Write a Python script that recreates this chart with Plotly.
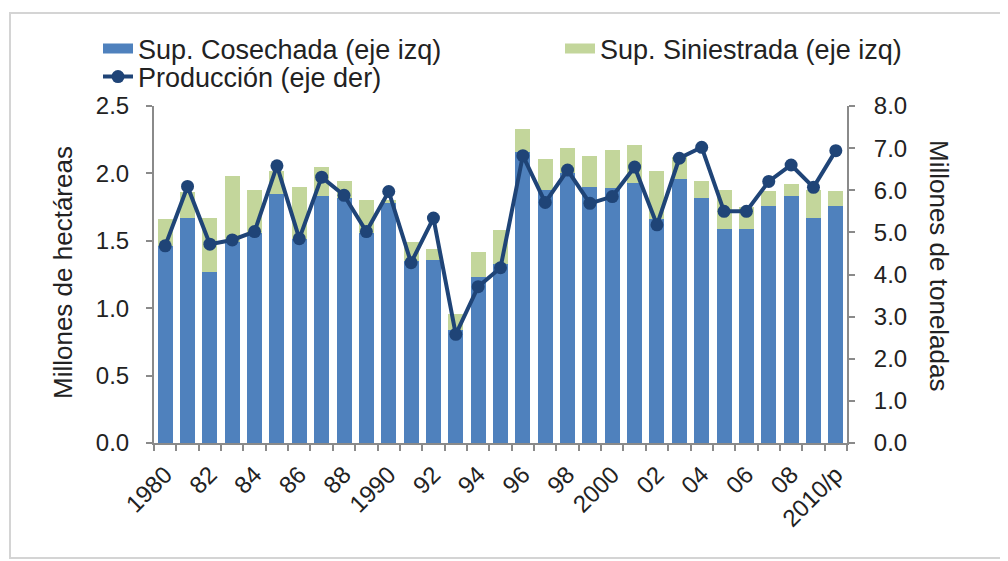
import plotly.graph_objects as go

years = list(range(1980, 2011))
cosechada = [1.46, 1.67, 1.27, 1.49, 1.56, 1.85, 1.51, 1.83, 1.82, 1.56,
             1.78, 1.35, 1.36, 0.84, 1.23, 1.33, 2.16, 1.88, 2.00, 1.90,
             1.89, 1.93, 1.66, 1.96, 1.82, 1.59, 1.59, 1.76, 1.83, 1.67, 1.76]
siniestrada = [0.20, 0.19, 0.40, 0.49, 0.32, 0.17, 0.39, 0.22, 0.12, 0.24,
               0.02, 0.14, 0.08, 0.12, 0.19, 0.25, 0.17, 0.23, 0.19, 0.23,
               0.28, 0.28, 0.36, 0.16, 0.12, 0.29, 0.16, 0.11, 0.09, 0.21, 0.11]
produccion = [4.68, 6.09, 4.72, 4.82, 5.02, 6.58, 4.85, 6.31, 5.88, 5.02,
              5.97, 4.28, 5.34, 2.58, 3.71, 4.16, 6.82, 5.71, 6.48, 5.69,
              5.85, 6.55, 5.18, 6.76, 7.02, 5.50, 5.50, 6.21, 6.60, 6.07, 6.94]
tick_years = [1980, 1982, 1984, 1986, 1988, 1990, 1992, 1994, 1996, 1998,
              2000, 2002, 2004, 2006, 2008, 2010]
tick_labels = ["1980", "82", "84", "86", "88", "1990", "92", "94", "96", "98",
               "2000", "02", "04", "06", "08", "2010/p"]

FONT = "Liberation Sans, Arial, sans-serif"
TXT = "#222222"
AX = "#8a8a8a"
BLUE = "#4F81BD"
GREEN = "#C3D69B"
NAVY = "#1F4477"

fig = go.Figure()
fig.add_trace(go.Bar(x=years, y=cosechada, name="Sup. Cosechada (eje izq)",
                     marker=dict(color=BLUE, line=dict(width=0)),
                     legendgroup="cos", showlegend=False))
fig.add_trace(go.Bar(x=years, y=siniestrada, name="Sup. Siniestrada (eje izq)",
                     marker=dict(color=GREEN, line=dict(width=0)),
                     legendgroup="sin", showlegend=False))
fig.add_trace(go.Scatter(x=years, y=produccion, name="Producción (eje der)", yaxis="y2",
                         mode="lines+markers", line=dict(color=NAVY, width=4),
                         marker=dict(color=NAVY, size=13), legend="legend3"))
# legend swatches (wide rectangles like the original) for the bar series
fig.add_trace(go.Scatter(x=[None], y=[None], mode="lines", name="Sup. Cosechada (eje izq)",
                         line=dict(color=BLUE, width=14), legendgroup="cos",
                         legend="legend", hoverinfo="skip"))
fig.add_trace(go.Scatter(x=[None], y=[None], mode="lines", name="Sup. Siniestrada (eje izq)",
                         line=dict(color=GREEN, width=14), legendgroup="sin",
                         legend="legend2", hoverinfo="skip"))

# page is offset by the default 8px body margin
OFF = 8
W, H = 1008 - OFF, 561 - OFF
PL, PR, PT, PB = 154, 847, 106, 443  # plot area in page pixels
pw, ph = PR - PL, PB - PT
def px(x):
    return (x - PL) / pw
def py(y):
    return (PB - y) / ph

leg_common = dict(orientation="v", xanchor="left", yanchor="middle",
                  font=dict(family=FONT, size=27, color=TXT),
                  bgcolor="rgba(0,0,0,0)", borderwidth=0, itemclick=False,
                  visible=True)

fig.update_layout(
    width=W, height=H,
    margin=dict(l=PL - OFF, r=1008 - PR, t=PT - OFF, b=561 - PB, autoexpand=False),
    paper_bgcolor="white", plot_bgcolor="white",
    showlegend=True,
    barmode="stack", bargap=0.33,
    font=dict(family=FONT, color=TXT),
    legend=dict(x=px(98), y=py(49), **leg_common),
    legend2=dict(x=px(560), y=py(49), **leg_common),
    legend3=dict(x=px(98), y=py(77), **leg_common),
    xaxis=dict(range=[1979.5, 2010.5], tickmode="array", tickvals=tick_years,
               ticktext=tick_labels, tickangle=-45, ticks="outside", ticklen=6,
               tickcolor="rgba(0,0,0,0)",
               tickfont=dict(family=FONT, size=24, color=TXT),
               showline=True, linecolor=AX, linewidth=2, showgrid=False, zeroline=False,
               minor=dict(tick0=1979.5, dtick=1, ticks="outside", ticklen=6,
                          tickcolor=AX, tickwidth=1.5, showgrid=False)),
    yaxis=dict(range=[0, 2.5], dtick=0.5, tickformat=".1f", ticks="outside",
               ticklen=6, tickcolor=AX, tickwidth=1.5, ticklabelstandoff=12,
               tickfont=dict(family=FONT, size=24, color=TXT),
               showline=True, linecolor=AX, linewidth=2, showgrid=False, zeroline=False),
    yaxis2=dict(range=[0, 8], dtick=1, tickformat=".1f", overlaying="y", side="right",
                ticks="outside", ticklen=6, tickcolor=AX, tickwidth=1.5,
                ticklabelstandoff=14,
                tickfont=dict(family=FONT, size=24, color=TXT),
                showline=True, linecolor=AX, linewidth=2, showgrid=False, zeroline=False),
    annotations=[
        dict(text="Millones de hectáreas", xref="paper", yref="paper",
             x=px(63), y=py(272), xanchor="center", yanchor="middle",
             textangle=-90, showarrow=False,
             font=dict(family=FONT, size=26, color=TXT)),
        dict(text="Millones de toneladas", xref="paper", yref="paper",
             x=px(939), y=py(266), xanchor="center", yanchor="middle",
             textangle=90, showarrow=False,
             font=dict(family=FONT, size=26, color=TXT)),
    ],
    shapes=[
        dict(type="rect", xref="paper", yref="paper",
             x0=px(10), x1=px(1030), y0=py(558), y1=py(13),
             line=dict(color="#d4d4d4", width=2), fillcolor="rgba(0,0,0,0)", layer="below"),
    ],
)

fig.write_html("out.html")
